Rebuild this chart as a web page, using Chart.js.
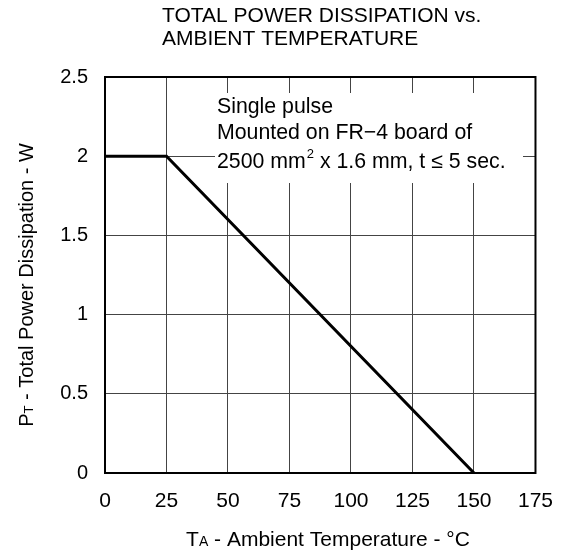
<!DOCTYPE html>
<html>
<head>
<meta charset="utf-8">
<script src="https://cdn.jsdelivr.net/npm/chart.js@4"></script>
<style>
  html, body { margin: 0; padding: 0; background: #fff; }
  #wrap { width: 569px; height: 556px; }
</style>
</head>
<body>
<div id="wrap"><canvas id="c" width="569" height="556"></canvas></div>
<script>
// ---- data ----
const tempC = [0, 25, 150];
const powerW = [2, 2, 0];
const xTickValues = [0, 25, 50, 75, 100, 125, 150, 175];
const yTickValues = [0, 0.5, 1, 1.5, 2, 2.5];
const titleLines = ['TOTAL POWER DISSIPATION vs.', 'AMBIENT TEMPERATURE'];
const noteLines = ['Single pulse', 'Mounted on FR\u22124 board of'];

const FONT = '"Liberation Sans", Arial, Helvetica, sans-serif';

const textPlugin = {
  id: 'texts',
  beforeDatasetsDraw(chart) {
    const ctx = chart.ctx;
    const a = chart.chartArea;
    ctx.save();
    // white box behind the note
    ctx.fillStyle = '#fff';
    ctx.fillRect(215, 93, 308, 90);
    // frame
    ctx.strokeStyle = '#000';
    ctx.lineWidth = 2;
    ctx.strokeRect(a.left, a.top, a.right - a.left, a.bottom - a.top);
    ctx.restore();
  },
  afterDraw(chart) {
    const ctx = chart.ctx;
    const a = chart.chartArea;
    ctx.save();
    ctx.fillStyle = '#000';
    ctx.textBaseline = 'alphabetic';
    ctx.textAlign = 'left';
    // title
    ctx.font = '21px ' + FONT;
    ctx.fillText(titleLines[0], 162, 22);
    ctx.fillText(titleLines[1], 162, 45);
    // note
    ctx.font = '21.3px ' + FONT;
    ctx.fillText(noteLines[0], 217, 113);
    ctx.fillText(noteLines[1], 217, 139);
    let x = 217;
    const s1 = '2500 mm';
    ctx.fillText(s1, x, 168); x += ctx.measureText(s1).width;
    ctx.font = '13px ' + FONT;
    ctx.fillText('2', x + 1, 158); x += ctx.measureText('2').width + 1;
    ctx.font = '21.3px ' + FONT;
    ctx.fillText(' x 1.6 mm, t \u2264 5 sec.', x, 168);

    // x axis title with subscript
    const parts = [
      ['T', 21, 0], ['A', 14, 0], [' - Ambient Temperature - \u00B0C', 21, 0]
    ];
    let total = 0;
    parts.forEach(p => { ctx.font = p[1] + 'px ' + FONT; total += ctx.measureText(p[0]).width; });
    x = 328 - total / 2;
    parts.forEach(p => {
      ctx.font = p[1] + 'px ' + FONT;
      ctx.fillText(p[0], x, 546 + p[2]);
      x += ctx.measureText(p[0]).width;
    });

    // y axis title rotated
    const yparts = [
      ['P', 20, 0], ['T', 13, 0], [' - Total Power Dissipation - W', 20, 0]
    ];
    total = 0;
    yparts.forEach(p => { ctx.font = p[1] + 'px ' + FONT; total += ctx.measureText(p[0]).width; });
    ctx.translate(33, 285);
    ctx.rotate(-Math.PI / 2);
    x = -total / 2;
    yparts.forEach(p => {
      ctx.font = p[1] + 'px ' + FONT;
      ctx.fillText(p[0], x, p[2]);
      x += ctx.measureText(p[0]).width;
    });
    ctx.restore();
  }
};

new Chart(document.getElementById('c'), {
  type: 'scatter',
  data: {
    datasets: [{
      data: tempC.map((t, i) => ({ x: t, y: powerW[i] })),
      showLine: true,
      borderColor: '#000',
      borderWidth: 3,
      pointRadius: 0,
      fill: false,
      tension: 0
    }]
  },
  options: {
    responsive: false,
    animation: false,
    devicePixelRatio: 1,
    layout: { padding: { top: 77, right: 28, left: 0, bottom: 0 } },
    plugins: { legend: { display: false }, tooltip: { enabled: false }, title: { display: false } },
    scales: {
      x: {
        type: 'linear',
        min: 0, max: 175,
        afterBuildTicks: s => { s.ticks = xTickValues.map(v => ({ value: v })); },
        afterFit: s => { s.height = 83; },
        grid: { color: '#444', lineWidth: 1, drawTicks: false },
        border: { display: false },
        ticks: { color: '#000', font: { family: FONT, size: 21 }, padding: 16, maxRotation: 0, callback: v => String(v) }
      },
      y: {
        type: 'linear',
        min: 0, max: 2.5,
        afterBuildTicks: s => { s.ticks = yTickValues.map(v => ({ value: v })); },
        afterFit: s => { s.width = 105; },
        grid: { color: '#444', lineWidth: 1, drawTicks: false },
        border: { display: false },
        ticks: { color: '#000', font: { family: FONT, size: 20 }, padding: 17, callback: v => String(v) }
      }
    }
  },
  plugins: [textPlugin]
});
</script>
</body>
</html>
